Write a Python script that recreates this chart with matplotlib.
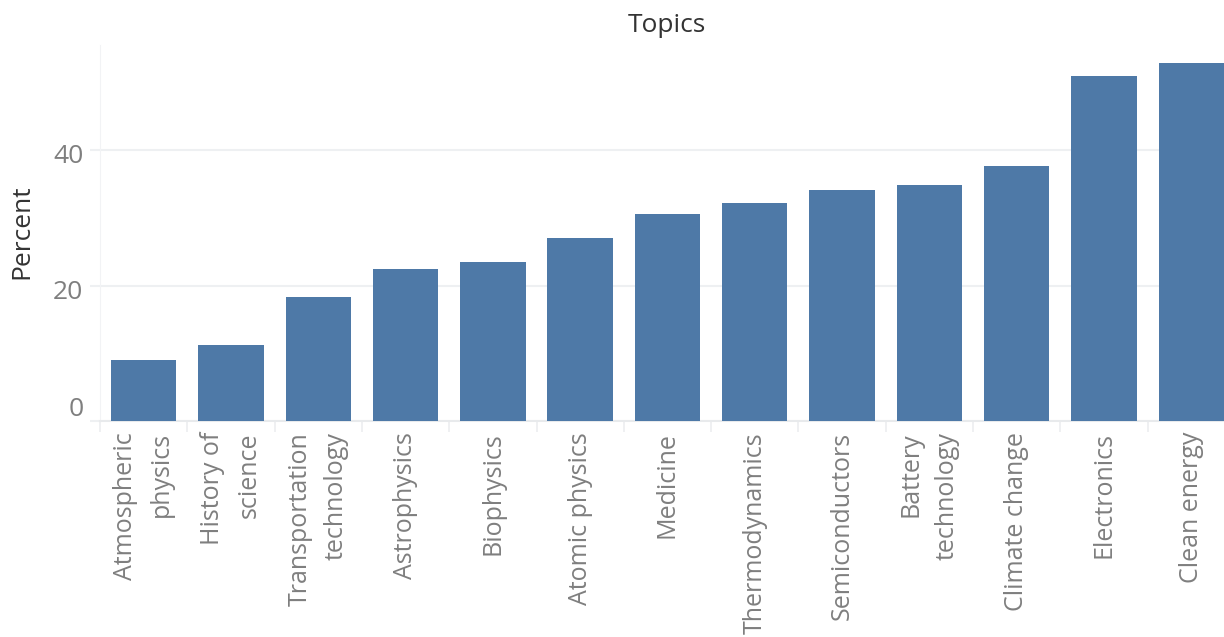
import matplotlib.pyplot as plt
import matplotlib.transforms as mtransforms

topics = ['Atmospheric\nphysics', 'History of\nscience', 'Transportation\ntechnology',
          'Astrophysics', 'Biophysics', 'Atomic physics', 'Medicine', 'Thermodynamics',
          'Semiconductors', 'Battery\ntechnology', 'Climate change', 'Electronics',
          'Clean energy']
percent = [9.0, 11.2, 18.3, 22.5, 23.5, 27.0, 30.6, 32.2, 34.1, 34.8, 37.7, 50.9, 52.8]
yticks = [0, 20, 40]

plt.rcParams['font.family'] = ['Open Sans', 'DejaVu Sans']

W, H = 1224, 637
fig = plt.figure(figsize=(W / 100, H / 100), dpi=100)
# axes box in pixels: left 100, right edge of figure, bottom 421, top 45
ax = fig.add_axes([100 / W, (H - 421) / H, (W - 100) / W, (421 - 45) / H])

n = len(topics)
x = list(range(n))
ax.bar(x, percent, width=0.75, color='#4e79a7', zorder=3)

ax.set_yticks(yticks)
ax.set_yticklabels([str(v) for v in yticks], fontsize=19, color='#7f7f7f')
ax.grid(axis='y', color='#eef0f2', linewidth=1.5, zorder=0)
ax.tick_params(axis='y', length=7, width=1.5, color='#eef0f2', pad=5)
for lbl in ax.get_yticklabels():
    dy = 0.15 if lbl.get_text() == '0' else -0.04
    lbl.set_transform(lbl.get_transform() +
                      mtransforms.ScaledTranslation(0, dy, fig.dpi_scale_trans))

ax.set_xticks(x)
ax.set_xticklabels(topics, rotation=90, ha='center', va='top', multialignment='right',
                   fontsize=18, color='#7f7f7f', linespacing=1.6)
ax.tick_params(axis='x', length=0, pad=8)
ax.set_xticks([i - 0.5 for i in range(n + 1)], minor=True)
ax.tick_params(axis='x', which='minor', length=8, width=1.2, color='#eceef0')

# limits after ticks so set_xticks does not widen them
ax.set_xlim(-0.5, -0.5 + (W - 100) / 87.3)
ax.set_ylim(0, (421 - 45) / 6.775)

for side in ['top', 'right']:
    ax.spines[side].set_visible(False)
ax.spines['left'].set_color('#f2f3f5')
ax.spines['bottom'].set_color('#e8eaec')
ax.spines['bottom'].set_linewidth(1.5)

fig.text(22 / W, 1 - 232 / H, 'Percent', rotation=90, ha='center', va='center',
         fontsize=19, color='#333333', fontweight='medium')
fig.text(667 / W, 1 - 26 / H, 'Topics', ha='center', va='center',
         fontsize=19, color='#333333', fontweight='medium')

fig.savefig('out.png', dpi=100)
